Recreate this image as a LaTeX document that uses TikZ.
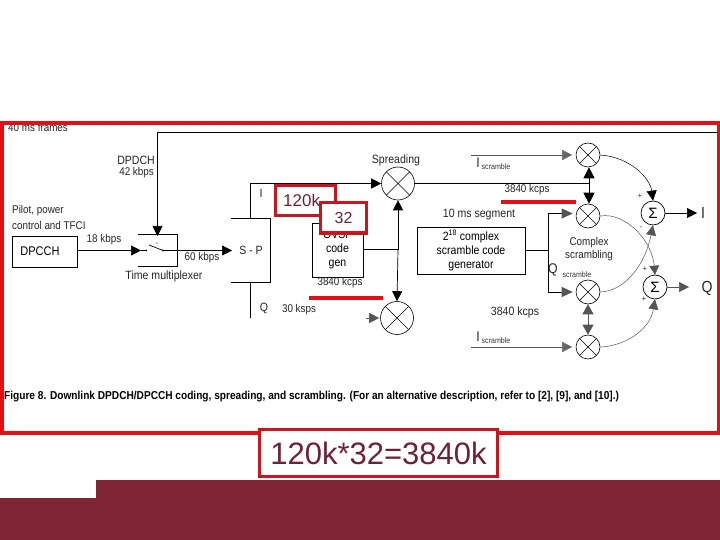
\documentclass[tikz,border=0pt]{standalone}
\usepackage{fontspec}
\setmainfont{Liberation Sans}
\newfontfamily\nar[FakeStretch=0.88]{Liberation Sans}
\usetikzlibrary{arrows.meta,calc}
\definecolor{framered}{HTML}{E30F16}
\definecolor{boxred}{HTML}{C9161E}
\definecolor{maroon}{HTML}{802536}
\definecolor{inkm}{HTML}{6E2233}
\definecolor{gr}{HTML}{555555}
\tikzset{
  x=1pt,y=-1pt,
  lab/.style={inner sep=0pt,font=\nar\fontsize{12}{14}\selectfont,text=black!85},
  labs/.style={inner sep=0pt,font=\nar\fontsize{11.2}{13}\selectfont,text=black!85},
  sub/.style={inner sep=0pt,font=\nar\fontsize{8}{9}\selectfont,text=black!80},
  wire/.style={line width=0.7pt,draw=black},
  thin wire/.style={line width=0.5pt,draw=gr},
  tip/.style={-{Triangle[length=10pt,width=10pt]}},
  gtip/.style={-{Triangle[length=10pt,width=10pt,color=gr]}},
  twog/.style={draw=gr,{Triangle[length=10pt,width=11pt,color=gr]}-{Triangle[length=10pt,width=11pt,color=gr]}},
  mult/.style={circle,draw,line width=0.6pt,inner sep=0pt,minimum size=#1,
    path picture={\draw[line width=0.5pt] (path picture bounding box.north east)--(path picture bounding box.south west)
      (path picture bounding box.north west)--(path picture bounding box.south east);}},
  sumn/.style={circle,draw,line width=0.7pt,inner sep=0pt,minimum size=24pt,font=\fontsize{15}{15}\selectfont},
  block/.style={draw,line width=0.7pt,inner sep=0pt,fill=white},
  redbox/.style={draw=boxred,line width=3pt,fill=white,inner sep=0pt,text=inkm,font=\fontsize{18}{20}\selectfont},
  redbar/.style={draw=framered,line width=4pt},
}
\begin{document}
\begin{tikzpicture}
\useasboundingbox (0,0) rectangle (720,540);
\fill[white] (0,0) rectangle (720,540);
% bottom band
\fill[maroon] (96,480) -- (720,480) -- (720,540) -- (0,540) -- (0,498) -- (96,498) -- cycle;

% labels
\node[labs,anchor=west] (frames) at (8,128) {40 ms frames};
\node[lab,anchor=east] (dpdchl) at (155,160) {DPDCH};
\node[labs,anchor=east] (k42) at (154,173) {42 kbps};
\node[labs,anchor=west] (pilot) at (12,211) {Pilot, power};
\node[labs,anchor=west] (tfci) at (12,225) {control and TFCI};
\node[labs] (k18) at (104,240) {18 kbps};
\node[labs] (k60) at (202,258) {60 kbps};
\node[lab] (tmx) at (164,276) {Time multiplexer};
\node[lab] (ilab) at (261,193) {I};
\node[lab] (qlab) at (264,308) {Q};
\node[labs] (k30) at (299,310) {30 ksps};
\node[lab] (spr) at (396,160) {Spreading};
\node[labs] (k3840a) at (527,190) {3840 kcps};
\node[lab] (seg) at (479,215) {10 ms segment};
\node[labs] (cpx) at (589,243) {Complex};
\node[labs] (scr) at (589,256) {scrambling};
\node[lab] (k3840b) at (515,312) {3840 kcps};
\node[lab,font=\nar\fontsize{14}{14}\selectfont] (qs) at (553,270) {Q};
\node[sub] (qss) at (577,274.5) {scramble};
\node[lab,font=\nar\fontsize{14}{14}\selectfont] (i1) at (478,163) {I};
\node[sub] (i1s) at (496,167) {scramble};
\node[lab,font=\nar\fontsize{14}{14}\selectfont] (i2) at (478,337) {I};
\node[sub] (i2s) at (496,341) {scramble};

% blocks
\node[block,minimum width=65pt,minimum height=31pt] (dpcch) at (45,251.5) {\nar\fontsize{12.5}{13}\selectfont\hspace*{-10pt}DPCCH};
\node[block,minimum width=51pt,minimum height=54pt,align=center,font=\nar\fontsize{12}{14}\selectfont] (ovsf) at (337.5,250) {OVSF\\code\\gen};
\node[block,minimum width=108pt,minimum height=47pt,align=center,font=\nar\fontsize{12}{14}\selectfont] (gen) at (471,250.5) {2\textsuperscript{18} complex\\scramble code\\generator};
\node[labs] (k3840c) at (340,283) {3840 kcps};

% time multiplexer
\coordinate (mxa) at (138,234); \coordinate (mxb) at (177,234);
\coordinate (mxc) at (177,266); \coordinate (mxd) at (138,266);
\draw[wire] (mxa)--(mxb)--(mxc)--(mxd);
\coordinate (swi) at (146,250.5); \coordinate (swo) at (163,250.5); \coordinate (swt) at (149,245);
\draw[wire] (swt)--(swo);
\fill (swi) circle (1pt) (swo) circle (1.2pt) (157,243) circle (0.6pt);

% S-P
\coordinate (spa) at (231,218); \coordinate (spb) at (270,218);
\coordinate (spc) at (270,282); \coordinate (spd) at (231,282);
\draw[wire] (spa)--(spb)--(spc)--(spd);
\node[lab] (sp) at (251,250) {S - P};
\coordinate (itop) at (250,183.5); \coordinate (ibot) at (250,218);
\coordinate (qtop) at (250,282); \coordinate (qbot) at (250,318);
\draw[wire] (ibot)--(itop);
\draw[wire] (qtop)--(qbot);

% multipliers
\node[mult=33pt] (ms) at (398,183.5) {};
\node[mult=33pt] (ml) at (397,318) {};
\node[mult=24pt] (m1) at (588,155) {};
\node[mult=24pt] (m2) at (588,216) {};
\node[mult=24pt] (m3) at (588,292) {};
\node[mult=24pt] (m4) at (588,347) {};
\node[sumn] (s1) at (653,213) {Σ};
\node[sumn] (s2) at (655,287) {Σ};

% top line and DPDCH
\coordinate (tl) at (157.5,132); \coordinate (tr) at (719,132);
\draw[wire] (tr)--(tl);
\draw[wire,tip] (tl)--(157.5,236);
% wires
\draw[wire,tip] (dpcch.east |- 0,250.5) -- (141,250.5);
\draw[wire] (146,250.5)--(141,250.5);
\draw[wire,tip] (swo)--(232,250.5);
\draw[wire,tip] (itop)--(ms.west);
\draw[draw=gr,line width=0.5pt,gtip,shorten >=1pt] (366,318)--(ml.west);
\coordinate (ovj) at (398,249.5);
\draw[wire] (ovsf.east |- ovj)--(ovj);
\draw[wire,tip] (ovj)--(ms.south);
\draw[wire,tip] (ovj)--(ml.north);
\coordinate (sj) at (589,183.5);
\draw[wire] (ms.east)--(sj);
\draw[wire,-{Triangle[length=11pt,width=11pt]}] (sj)--(m1.south -| sj);
\draw[wire,-{Triangle[length=11pt,width=11pt]}] (sj)--(m2.north -| sj);
\coordinate (i1a) at (471,155); \coordinate (i2a) at (471,347);
\draw[thin wire,shorten >=3.5pt,-{Triangle[length=10pt,width=10pt,color=gr!90]}] (i1a)--(m1.west);
\draw[thin wire,shorten >=3.5pt,-{Triangle[length=10pt,width=10pt,color=gr!90]}] (i2a)--(m4.west);
\coordinate (gj) at (548,250.5);
\draw[wire] (gen.east)--(gj);
\draw[wire,shorten >=3pt,-{Triangle[length=11pt,width=10pt,color=gr]}] (gj)--(548,213.5)--(m2.west |- 0,213.5);
\draw[wire,shorten >=3pt,-{Triangle[length=11pt,width=10pt,color=gr]}] (gj)--(548,292)--(m3.west);
\draw[line width=0.7pt,twog] (m3.south)--(m4.north);
% curves
\draw[line width=0.5pt,tip] (m1.east) .. controls (630,157) and (650,178) .. (s1.north);
\draw[thin wire,-{Triangle[length=9pt,width=10pt,color=gr]}] (m2.east) .. controls (625,212) and (652,240) .. (s2.north);
\draw[thin wire,-{Triangle[length=10pt,width=10pt,color=gr]}] (m3.east) .. controls (625,291) and (645,265) .. (s1.south);
\draw[thin wire,-{Triangle[length=10pt,width=10pt,color=gr]}] (m4.east) .. controls (625,346) and (650,330) .. (s2.south);
% outputs
\coordinate (oi) at (697,213); \coordinate (oq) at (689,287);
\draw[wire,tip] (s1.east)--(oi);
\draw[thin wire,-{Triangle[length=10pt,width=10pt,color=gr]}] (s2.east)--(oq);
\node[lab,font=\nar\fontsize{16}{16}\selectfont] (il) at (703,213) {I};
\node[lab,font=\nar\fontsize{16}{16}\selectfont] (ql) at (707,288) {Q};
\node[sub,font=\fontsize{8}{8}\selectfont] (p1) at (640,196) {+};
\node[sub,font=\fontsize{8}{8}\selectfont] (p2) at (641,228) {-};
\node[sub,font=\fontsize{8}{8}\selectfont] (p3) at (645,269) {+};
\node[sub,font=\fontsize{8}{8}\selectfont] (p4) at (644,299) {+};

% caption
\node[inner sep=0pt,anchor=west] (cap) at (4,397)
 {\nar\bfseries\fontsize{11.5}{13}\selectfont Figure 8. Downlink DPDCH/DPCCH coding, spreading, and scrambling. (For an alternative description, refer to [2], [9], and [10].)};

% red annotations
\node[redbox,minimum width=60pt,minimum height=30pt] (b120) at (305.5,200.5) {};
\node[inner sep=0pt,text=inkm,font=\fontsize{17}{20}\selectfont,anchor=west] (t120) at (283,200.5) {120k};
\node[redbox,minimum width=46pt,minimum height=30pt,font=\fontsize{16}{20}\selectfont] (b32) at (343.5,218) {32};
\draw[redbar] (309,298)--(383,298);
\draw[redbar] (501,202)--(576,202);
\draw[framered,line width=4pt] (1.5,123.5) rectangle (718.5,433);
\node[redbox,minimum width=238pt,minimum height=47pt,font=\fontsize{31}{34}\selectfont] (res) at (378.5,453) {120k*32=3840k};
\end{tikzpicture}
\end{document}
